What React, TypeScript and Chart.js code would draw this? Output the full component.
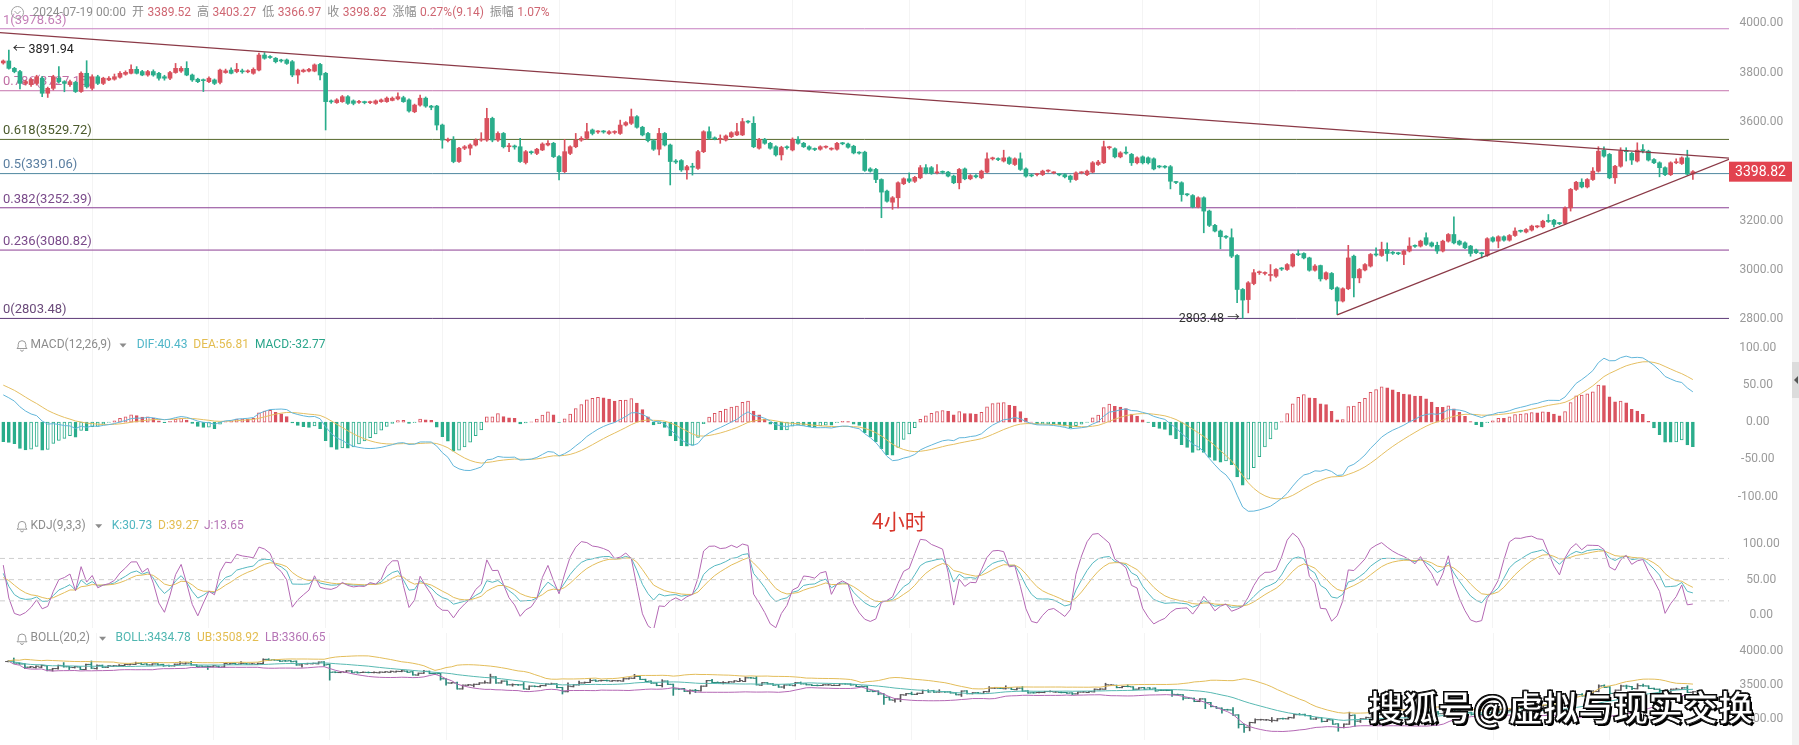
import React, { useEffect, useRef } from "react";
import { Chart, registerables } from "chart.js";

Chart.register(...registerables);

// ---------------- data (4H candles) ----------------
const opens = [
  3840,3848,3818,3805,3757,3752,3757,3778,3717,3737,
  3778,3764,3752,3761,3724,3798,3737,3784,3757,3771,
  3774,3782,3794,3798,3814,3805,3791,3805,3798,3784,
  3778,3801,3807,3818,3791,3774,3771,3764,3771,3761,
  3801,3811,3805,3808,3804,3798,3811,3872,3866,3859,
  3850,3852,3845,3791,3805,3807,3807,3834,3798,3686,
  3679,3683,3703,3686,3680,3681,3679,3676,3683,3683,
  3688,3694,3699,3690,3642,3669,3697,3665,3665,3588,
  3525,3527,3440,3494,3494,3507,3527,3527,3615,3527,
  3554,3500,3502,3500,3436,3480,3473,3487,3507,3514,
  3460,3399,3473,3500,3527,3534,3568,3560,3562,3554,
  3558,3554,3588,3595,3622,3579,3554,3525,3490,3554,
  3507,3440,3444,3406,3419,3412,3480,3561,3534,3530,
  3527,3541,3548,3548,3602,3595,3494,3530,3514,3500,
  3467,3498,3487,3530,3514,3500,3490,3490,3498,3490,
  3490,3514,3511,3502,3476,3478,3410,3408,3367,3320,
  3275,3293,3350,3370,3360,3374,3415,3415,3394,3398,
  3397,3381,3354,3410,3370,3383,3374,3397,3451,3449,
  3442,3455,3428,3451,3410,3383,3387,3387,3401,3394,
  3388,3387,3381,3367,3394,3387,3397,3428,3435,3496,
  3492,3459,3475,3469,3435,3459,3455,3451,3419,3419,
  3419,3356,3354,3306,3302,3256,3293,3239,3181,3158,
  3135,3131,3059,2921,2880,2945,2989,2986,2978,2975,
  3005,3002,3016,3063,3067,3049,2999,3018,2964,2986,
  2928,2874,2924,3056,2968,3000,3016,3063,3059,3083,
  3070,3067,3063,3077,3097,3097,3131,3110,3100,3077,
  3117,3144,3117,3110,3097,3081,3067,3059,3131,3117,
  3135,3121,3140,3158,3154,3162,3175,3175,3198,3202,
  3189,3189,3252,3327,3356,3337,3367,3401,3486,3469,
  3374,3421,3482,3473,3442,3486,3482,3448,3435,3415,
  3387,3435,3432,3455,3389.52,
];
const highs = [
  3852,3892,3822,3810,3770,3778,3790,3785,3742,3790,
  3825,3768,3770,3766,3804,3849,3792,3790,3782,3785,
  3795,3805,3808,3832,3825,3810,3810,3812,3802,3790,
  3806,3838,3825,3845,3795,3778,3775,3784,3775,3815,
  3815,3820,3838,3815,3812,3820,3880,3882,3870,3862,
  3855,3856,3850,3815,3815,3818,3836,3838,3802,3690,
  3695,3708,3708,3690,3688,3685,3685,3690,3694,3702,
  3702,3719,3705,3694,3673,3710,3702,3668,3668,3592,
  3535,3541,3498,3505,3512,3532,3557,3656,3620,3560,
  3558,3514,3507,3534,3485,3483,3494,3516,3525,3518,
  3464,3530,3504,3554,3541,3595,3572,3566,3566,3566,
  3565,3608,3602,3653,3626,3583,3558,3530,3575,3558,
  3511,3448,3448,3425,3433,3485,3565,3581,3540,3548,
  3548,3561,3595,3615,3606,3622,3534,3534,3518,3504,
  3502,3504,3536,3541,3518,3504,3495,3504,3504,3496,
  3518,3518,3515,3506,3480,3482,3415,3412,3370,3324,
  3298,3358,3374,3394,3380,3424,3428,3420,3428,3402,
  3400,3385,3412,3414,3387,3387,3405,3475,3458,3455,
  3486,3459,3455,3475,3414,3388,3392,3405,3406,3399,
  3392,3391,3385,3398,3399,3405,3440,3445,3523,3502,
  3496,3480,3500,3473,3459,3463,3459,3455,3424,3424,
  3424,3360,3358,3310,3306,3297,3297,3243,3185,3162,
  3140,3167,3063,2925,2953,3002,2996,2993,3022,3006,
  3010,3026,3067,3081,3070,3052,3022,3020,2993,2990,
  2932,2928,3100,3060,3006,3026,3067,3090,3113,3110,
  3075,3072,3081,3131,3102,3121,3151,3114,3113,3121,
  3148,3216,3121,3114,3100,3085,3072,3131,3135,3139,
  3139,3144,3171,3162,3168,3182,3180,3202,3225,3206,
  3193,3256,3331,3360,3370,3371,3415,3500,3500,3473,
  3425,3496,3496,3477,3516,3509,3486,3452,3439,3419,
  3439,3451,3459,3486,3403.27,
];
const lows = [
  3835,3815,3800,3735,3750,3745,3750,3703,3700,3730,
  3758,3723,3745,3720,3720,3738,3730,3752,3752,3768,
  3770,3778,3790,3795,3795,3788,3786,3786,3770,3770,
  3772,3798,3802,3788,3765,3760,3724,3760,3752,3755,
  3798,3795,3800,3798,3800,3794,3808,3855,3858,3840,
  3843,3834,3784,3757,3802,3804,3804,3771,3568,3676,
  3676,3680,3672,3670,3676,3674,3675,3672,3680,3680,
  3686,3690,3680,3640,3638,3665,3660,3650,3568,3494,
  3520,3435,3436,3488,3467,3503,3522,3522,3520,3522,
  3495,3480,3490,3436,3430,3470,3468,3484,3503,3456,
  3365,3395,3468,3496,3522,3530,3548,3554,3555,3550,
  3552,3550,3584,3590,3575,3544,3520,3485,3467,3503,
  3345,3432,3400,3368,3385,3408,3476,3530,3528,3514,
  3523,3537,3545,3545,3596,3496,3490,3510,3490,3462,
  3446,3490,3483,3510,3497,3486,3484,3486,3494,3486,
  3486,3508,3494,3471,3470,3400,3397,3354,3212,3275,
  3246,3252,3346,3354,3355,3370,3390,3388,3390,3390,
  3378,3350,3329,3366,3366,3374,3370,3394,3446,3443,
  3438,3428,3424,3404,3377,3378,3382,3383,3397,3390,
  3382,3374,3356,3363,3390,3383,3394,3424,3432,3490,
  3455,3455,3470,3424,3430,3430,3430,3406,3414,3413,
  3329,3350,3279,3300,3252,3252,3151,3176,3154,3086,
  3128,3050,2867,2803.48,2826,2940,2982,2980,2955,2970,
  2998,2998,3012,3058,3045,2995,2995,2955,2960,2920,
  2820,2870,2920,2891,2948,2996,3012,3056,3055,3036,
  3063,3062,3022,3073,3092,3093,3100,3093,3067,3073,
  3113,3106,3100,3086,3056,3066,3049,3055,3113,3090,
  3117,3117,3136,3153,3150,3158,3171,3171,3193,3175,
  3184,3185,3239,3323,3333,3333,3363,3397,3458,3370,
  3351,3417,3442,3428,3438,3475,3442,3431,3378,3383,
  3383,3431,3428,3385,3366.97,
];
const closes = [
  3848,3818,3805,3757,3764,3772,3784,3717,3737,3784,
  3764,3757,3764,3724,3798,3744,3784,3757,3778,3778,
  3784,3798,3802,3814,3798,3791,3805,3791,3778,3778,
  3801,3818,3818,3791,3771,3764,3768,3778,3757,3811,
  3808,3798,3814,3804,3806,3814,3872,3859,3862,3845,
  3848,3838,3791,3811,3811,3814,3832,3791,3683,3682,
  3690,3703,3676,3676,3683,3679,3681,3686,3690,3697,
  3697,3703,3683,3645,3669,3697,3665,3660,3588,3527,
  3530,3440,3494,3500,3507,3527,3530,3615,3527,3554,
  3500,3502,3499,3440,3480,3476,3490,3511,3514,3460,
  3399,3480,3500,3527,3534,3561,3554,3562,3560,3561,
  3560,3588,3598,3622,3579,3548,3525,3490,3554,3507,
  3440,3438,3406,3419,3417,3480,3561,3534,3532,3532,
  3544,3557,3561,3602,3600,3500,3530,3514,3494,3467,
  3497,3496,3530,3514,3500,3490,3489,3500,3499,3491,
  3514,3512,3498,3475,3474,3404,3401,3367,3316,3279,
  3293,3354,3370,3360,3376,3415,3394,3392,3396,3396,
  3381,3354,3408,3370,3383,3378,3401,3451,3453,3448,
  3455,3432,3451,3408,3381,3382,3388,3401,3402,3395,
  3386,3378,3367,3394,3395,3401,3435,3438,3500,3497,
  3459,3475,3474,3435,3455,3435,3435,3410,3418,3417,
  3360,3355,3306,3305,3256,3293,3239,3181,3158,3135,
  3133,3056,2921,2878,2948,2989,2990,2987,2980,3002,
  3004,3022,3063,3062,3049,2999,3016,2964,2989,2924,
  2874,2924,3049,2968,3002,3022,3063,3061,3083,3067,
  3068,3066,3077,3097,3096,3117,3104,3097,3077,3117,
  3144,3110,3104,3090,3067,3070,3066,3127,3117,3135,
  3121,3140,3158,3157,3164,3178,3176,3198,3197,3185,
  3188,3252,3327,3356,3337,3367,3401,3482,3462,3374,
  3421,3482,3480,3446,3486,3484,3446,3435,3415,3387,
  3435,3437,3455,3389,3398.82,
];

const fibRatios = ["1", "0.786", "0.618", "0.5", "0.382", "0.236", "0"];
const fibValues = [3978.63, 3727.15, 3529.72, 3391.06, 3252.39, 3080.82, 2803.48];
const descTrend = [[-0.6, 3963], [310.5, 3454]];
const ascTrend = [[240, 2818], [310.5, 3449]];
const highMark = { index: 1, value: 3891.94 };
const lowMark = { index: 223, value: 2803.48 };

const priceTicks = [2800, 3000, 3200, 3400, 3600, 3800, 4000];
const macdTicks = [-100, -50, 0, 50, 100];
const kdjTicks = [0, 50, 100];
const kdjGuides = [20, 50, 80];
const bollTicks = [3000, 3500, 4000];
const xGrid = [16, 37, 58, 79, 100, 121, 142, 163, 184, 205, 226, 247, 268, 289];

const macdSeed = [3830, 3792, 53]; // ema12, ema26, dea before the first bar

const headerItems = [
  ["2024-07-19 00:00", "t"], ["开", "l"], ["3389.52", "v"], ["高", "l"], ["3403.27", "v"],
  ["低", "l"], ["3366.97", "v"], ["收", "l"], ["3398.82", "v"], ["涨幅", "l"],
  ["0.27%(9.14)", "v"], ["振幅", "l"], ["1.07%", "v"],
];
const macdLegend = ["DIF:40.43", "DEA:56.81", "MACD:-32.77"];
const kdjLegend = ["K:30.73", "D:39.27", "J:13.65"];
const bollLegend = ["BOLL:3434.78", "UB:3508.92", "LB:3360.65"];

// ---------------- styles ----------------
const FONT = 'Roboto, "Noto Sans CJK SC", sans-serif';
const UP = "#d9515e";
const DOWN = "#2aad8b";
const BAR_UP = "#5a5558";
const BAR_DOWN = "#2c8a7b";
const X_MIN = -0.59;
const X_MAX = 310.5;
const AXIS_W = 63;
const fibLineColors = ["#c67fc0", "#c574ae", "#56692c", "#4f879f", "#8a3f94", "#8c3e93", "#5e3a78"];
const fibTextColors = ["#c57fb8", "#c06ea4", "#4b5a2c", "#5a7ea0", "#7a4a8a", "#7a4a8a", "#6a4a7a"];
const TREND = "#8b3a47";
const C_DIF = "#62b6da";
const C_DEA = "#e5bf62";
const C_K = "#55b8c0";
const C_D = "#e3bd5a";
const C_J = "#b468b4";

// ---------------- indicators ----------------
const idx = closes.map((_, i) => i);

function calcMACD() {
  let e12 = macdSeed[0], e26 = macdSeed[1], dea = macdSeed[2];
  const dif: number[] = [], deaA: number[] = [], hist: number[] = [];
  closes.forEach((c) => {
    e12 = (e12 * 11) / 13 + (c * 2) / 13;
    e26 = (e26 * 25) / 27 + (c * 2) / 27;
    const d = e12 - e26;
    dea = dea * 0.8 + d * 0.2;
    dif.push(d); deaA.push(dea); hist.push(2 * (d - dea));
  });
  return { dif, dea: deaA, hist };
}
function calcKDJ() {
  let k = 50, d = 50;
  const K: number[] = [], D: number[] = [], J: number[] = [];
  closes.forEach((c, i) => {
    const s = Math.max(0, i - 8);
    const lo = Math.min(...lows.slice(s, i + 1));
    const hi = Math.max(...highs.slice(s, i + 1));
    const rsv = hi === lo ? 50 : ((c - lo) / (hi - lo)) * 100;
    k = (2 * k + rsv) / 3;
    d = (2 * d + k) / 3;
    K.push(k); D.push(d); J.push(3 * k - 2 * d);
  });
  return { K, D, J };
}
function calcBOLL() {
  const mid: number[] = [], up: number[] = [], dn: number[] = [];
  closes.forEach((_, i) => {
    const w = closes.slice(Math.max(0, i - 19), i + 1);
    const m = w.reduce((a, b) => a + b, 0) / w.length;
    const sd = Math.sqrt(w.reduce((a, b) => a + (b - m) * (b - m), 0) / w.length);
    mid.push(m); up.push(m + 2 * sd); dn.push(m - 2 * sd);
  });
  return { mid, up, dn };
}

// ---------------- helpers ----------------
const isUp = (i: number) => closes[i] >= opens[i];
const candleColor = (i: number) => (isUp(i) ? UP : DOWN);
const pts = (arr: number[]) => arr.map((v, i) => ({ x: i, y: v }));
const hline = (v: number) => [{ x: X_MIN, y: v }, { x: X_MAX, y: v }];

function xScale() {
  return {
    type: "linear",
    min: X_MIN,
    max: X_MAX,
    offset: false,
    display: true,
    ticks: { display: false },
    grid: { color: "rgba(0,0,0,0.045)", drawTicks: false, offset: false },
    border: { display: false },
    afterBuildTicks: (s: any) => { s.ticks = xGrid.map((v) => ({ value: v })); },
    afterFit: (s: any) => { s.height = 0; },
  };
}
function yScale(min: number, max: number, ticks: number[], pad: number) {
  return {
    type: "linear",
    position: "right",
    min,
    max,
    beginAtZero: false,
    grid: { display: false, drawTicks: false },
    border: { display: false },
    ticks: {
      color: "#9a9a9a",
      font: { family: FONT, size: 12 },
      crossAlign: "center",
      padding: pad,
      autoSkip: false,
      callback: (v: any) => Number(v).toFixed(2),
    },
    afterBuildTicks: (s: any) => { s.ticks = ticks.map((v) => ({ value: v })); },
    afterFit: (s: any) => { s.width = AXIS_W; s.paddingTop = 0; s.paddingBottom = 0; },
  };
}
function baseOptions(scales: any) {
  return {
    responsive: false,
    maintainAspectRatio: false,
    animation: false,
    events: [],
    layout: { padding: 0 },
    plugins: { legend: { display: false }, tooltip: { enabled: false } },
    scales,
  };
}
function drawBell(ctx: any, cx: number, cy: number) {
  ctx.save();
  ctx.strokeStyle = "#9a9a9a";
  ctx.lineWidth = 1;
  ctx.beginPath();
  ctx.moveTo(cx - 5, cy + 3.5);
  ctx.lineTo(cx - 3.8, cy + 2);
  ctx.lineTo(cx - 3.8, cy - 0.5);
  ctx.arc(cx, cy - 0.5, 3.8, Math.PI, 0);
  ctx.lineTo(cx + 3.8, cy + 2);
  ctx.lineTo(cx + 5, cy + 3.5);
  ctx.closePath();
  ctx.stroke();
  ctx.beginPath();
  ctx.arc(cx, cy + 4.8, 1.4, 0, Math.PI);
  ctx.stroke();
  ctx.restore();
}
function drawLegend(ctx: any, yc: number, name: string, caretX: number, items: any[]) {
  ctx.save();
  drawBell(ctx, 22, yc);
  ctx.font = `12px ${FONT}`;
  ctx.textBaseline = "middle";
  ctx.textAlign = "left";
  ctx.fillStyle = "#8c8c8c";
  ctx.fillText(name, 30.5, yc);
  ctx.beginPath();
  ctx.moveTo(caretX - 3.5, yc - 1.5);
  ctx.lineTo(caretX + 3.5, yc - 1.5);
  ctx.lineTo(caretX, yc + 2.5);
  ctx.closePath();
  ctx.fill();
  items.forEach(([t, x, c]) => { ctx.fillStyle = c; ctx.fillText(t, x, yc); });
  ctx.restore();
}

// ---------------- chart configs ----------------
function mainConfig() {
  const overlay = {
    id: "mainOverlay",
    beforeDatasetsDraw(chart: any) {
      const { ctx, scales } = chart;
      ctx.save();
      ctx.font = `13px ${FONT}`;
      ctx.textBaseline = "middle";
      ctx.textAlign = "left";
      fibValues.forEach((v, k) => {
        ctx.fillStyle = fibTextColors[k];
        ctx.fillText(`${fibRatios[k]}(${v.toFixed(2)})`, 3, scales.y.getPixelForValue(v) - 8.5);
      });
      ctx.restore();
    },
    afterDraw(chart: any) {
      const { ctx, scales, chartArea } = chart;
      const { x, y } = scales;
      ctx.save();
      // high / low marks
      ctx.font = `12.5px ${FONT}`;
      ctx.textBaseline = "middle";
      ctx.fillStyle = "#222";
      ctx.textAlign = "left";
      ctx.fillText(`← ${highMark.value.toFixed(2)}`, x.getPixelForValue(highMark.index) + 4, y.getPixelForValue(highMark.value));
      ctx.fillStyle = "#333";
      ctx.textAlign = "right";
      ctx.fillText(`${lowMark.value.toFixed(2)} →`, x.getPixelForValue(lowMark.index) - 3, y.getPixelForValue(lowMark.value));
      // header
      ctx.strokeStyle = "#a0a0a0";
      ctx.lineWidth = 1;
      ctx.beginPath();
      ctx.arc(17.5, 12.5, 6, 0, Math.PI * 2);
      ctx.stroke();
      ctx.beginPath();
      ctx.moveTo(14.5, 11);
      ctx.lineTo(17.5, 14);
      ctx.lineTo(20.5, 11);
      ctx.stroke();
      ctx.font = `12px ${FONT}`;
      ctx.textAlign = "left";
      let hx = 32.5;
      headerItems.forEach(([t, kind], k) => {
        ctx.fillStyle = kind === "v" ? "#cf6672" : "#8e8e8e";
        ctx.fillText(t, hx, 12.5);
        const next = headerItems[k + 1];
        hx += ctx.measureText(t).width + (next && next[1] === "v" ? 3.5 : 6);
      });
      // last price box
      const last = closes.length - 1;
      const py = y.getPixelForValue(closes[last]);
      ctx.fillStyle = "#e2434f";
      ctx.fillRect(chartArea.right, py - 10, AXIS_W, 20);
      ctx.fillStyle = "#ffffff";
      ctx.font = `14px ${FONT}`;
      ctx.textAlign = "center";
      ctx.fillText(closes[last].toFixed(2), chartArea.right + AXIS_W / 2, py + 0.5);
      ctx.restore();
    },
  };
  const datasets: any[] = [
    { type: "line", data: descTrend.map(([a, b]) => ({ x: a, y: b })), borderColor: TREND, borderWidth: 1.2, pointRadius: 0, order: 0 },
    { type: "line", data: ascTrend.map(([a, b]) => ({ x: a, y: b })), borderColor: TREND, borderWidth: 1.2, pointRadius: 0, order: 0 },
    {
      type: "bar",
      data: idx.map((i) => ({ x: i, y: [opens[i], closes[i]] })),
      backgroundColor: idx.map(candleColor),
      borderWidth: 0,
      barThickness: 4,
      minBarLength: 1,
      grouped: false,
      order: 1,
    },
    {
      type: "bar",
      data: idx.map((i) => ({ x: i, y: [lows[i], highs[i]] })),
      backgroundColor: idx.map(candleColor),
      borderWidth: 0,
      barThickness: 1,
      minBarLength: 1,
      grouped: false,
      order: 2,
    },
    ...fibValues.map((v, k) => ({
      type: "line",
      data: hline(v),
      borderColor: fibLineColors[k],
      borderWidth: 1,
      pointRadius: 0,
      order: 3,
    })),
  ];
  return {
    type: "bar",
    data: { datasets },
    options: baseOptions({ x: xScale(), y: yScale(2744.4, 4095.3, priceTicks, 10.5) }),
    plugins: [overlay],
  };
}

function macdConfig() {
  const m = calcMACD();
  const hollow = m.hist.map((v, i) => i > 0 && v > m.hist[i - 1]);
  const col = m.hist.map((v) => (v >= 0 ? UP : DOWN));
  const legend = {
    id: "macdLegend",
    afterDraw(chart: any) {
      drawLegend(chart.ctx, 12, "MACD(12,26,9)", 123, [
        [macdLegend[0], 136.7, "#4fb6c8"],
        [macdLegend[1], 193.3, "#e3bd50"],
        [macdLegend[2], 255, "#2aa58a"],
      ]);
    },
  };
  return {
    type: "bar",
    data: {
      datasets: [
        { type: "line", data: pts(m.dif), borderColor: C_DIF, borderWidth: 1, pointRadius: 0, order: 0 },
        { type: "line", data: pts(m.dea), borderColor: C_DEA, borderWidth: 1, pointRadius: 0, order: 0 },
        {
          type: "bar",
          data: pts(m.hist),
          backgroundColor: col.map((c, i) => (hollow[i] ? "#ffffff" : c)),
          borderColor: col,
          borderWidth: 1,
          borderSkipped: false,
          barThickness: 3,
          grouped: false,
          order: 1,
        },
      ],
    },
    options: baseOptions({ x: xScale(), y: yScale(-120.6, 119.7, macdTicks, 8.7) }),
    plugins: [legend],
  };
}

function kdjConfig() {
  const k = calcKDJ();
  const legend = {
    id: "kdjLegend",
    afterDraw(chart: any) {
      drawLegend(chart.ctx, 13.7, "KDJ(9,3,3)", 98.7, [
        [kdjLegend[0], 111.7, "#4fb6c0"],
        [kdjLegend[1], 158, "#e3bd50"],
        [kdjLegend[2], 204, "#b675b6"],
      ]);
    },
  };
  return {
    type: "line",
    data: {
      datasets: [
        ...kdjGuides.map((g) => ({ data: hline(g), borderColor: "#cfcfcf", borderWidth: 1, borderDash: [5, 4], pointRadius: 0 })),
        { data: pts(k.J), borderColor: C_J, borderWidth: 1, pointRadius: 0 },
        { data: pts(k.D), borderColor: C_D, borderWidth: 1, pointRadius: 0 },
        { data: pts(k.K), borderColor: C_K, borderWidth: 1, pointRadius: 0 },
      ],
    },
    options: baseOptions({ x: xScale(), y: yScale(-18.4, 145.7, kdjTicks, 13.8) }),
    plugins: [legend],
  };
}

function bollConfig() {
  const b = calcBOLL();
  const legend = {
    id: "bollLegend",
    afterDraw(chart: any) {
      drawLegend(chart.ctx, 10.3, "BOLL(20,2)", 102.6, [
        [bollLegend[0], 115.6, "#4fb6b0"],
        [bollLegend[1], 197, "#e3bd50"],
        [bollLegend[2], 265, "#b675b6"],
      ]);
    },
  };
  const cols = idx.map((i) => (isUp(i) ? BAR_UP : BAR_DOWN));
  return {
    type: "bar",
    data: {
      datasets: [
        { type: "line", data: pts(b.up), borderColor: C_D, borderWidth: 1, pointRadius: 0, order: 0 },
        { type: "line", data: pts(b.mid), borderColor: "#58b9b2", borderWidth: 1, pointRadius: 0, order: 0 },
        { type: "line", data: pts(b.dn), borderColor: C_J, borderWidth: 1, pointRadius: 0, order: 0 },
        {
          type: "line",
          data: idx.map((i) => ({ x: i - 0.28, y: opens[i] })),
          showLine: false,
          pointStyle: "line",
          pointRadius: 1.6,
          pointBorderWidth: 1,
          pointBorderColor: cols,
          order: 1,
        },
        {
          type: "line",
          data: idx.map((i) => ({ x: i + 0.28, y: closes[i] })),
          showLine: false,
          pointStyle: "line",
          pointRadius: 1.6,
          pointBorderWidth: 1,
          pointBorderColor: cols,
          order: 1,
        },
        {
          type: "bar",
          data: idx.map((i) => ({ x: i, y: [lows[i], highs[i]] })),
          backgroundColor: cols,
          borderWidth: 0,
          barThickness: 1,
          minBarLength: 1,
          grouped: false,
          order: 2,
        },
      ],
    },
    options: baseOptions({ x: xScale(), y: yScale(2692, 4258, bollTicks, 10.5) }),
    plugins: [legend],
  };
}

// ---------------- component ----------------
export default function App() {
  const mainRef = useRef<HTMLCanvasElement>(null);
  const macdRef = useRef<HTMLCanvasElement>(null);
  const kdjRef = useRef<HTMLCanvasElement>(null);
  const bollRef = useRef<HTMLCanvasElement>(null);

  useEffect(() => {
    document.body.style.margin = "0";
    document.body.style.overflow = "hidden";
    const charts = [
      new Chart(mainRef.current as any, mainConfig() as any),
      new Chart(macdRef.current as any, macdConfig() as any),
      new Chart(kdjRef.current as any, kdjConfig() as any),
      new Chart(bollRef.current as any, bollConfig() as any),
    ];
    return () => charts.forEach((c) => c.destroy());
  }, []);

  const cv = (top: number): React.CSSProperties => ({ position: "absolute", left: 0, top, display: "block" });

  return (
    <div style={{ position: "absolute", left: 0, top: 0, width: 1799, height: 745, background: "#ffffff", overflow: "hidden" }}>
      <canvas ref={mainRef} width={1792} height={333} style={cv(0)} />
      <canvas ref={macdRef} width={1792} height={179} style={cv(333)} />
      <canvas ref={kdjRef} width={1792} height={116} style={cv(512)} />
      <canvas ref={bollRef} width={1792} height={117} style={cv(628)} />
      <div style={{ position: "absolute", left: 1792, top: 0, width: 7, height: 745, background: "#f2f2f2" }} />
      <div style={{ position: "absolute", left: 1792, top: 362, width: 7, height: 36, background: "#dcdcdc" }}>
        <div style={{ position: "absolute", left: 2, top: 14, width: 0, height: 0, borderTop: "4px solid transparent", borderBottom: "4px solid transparent", borderRight: "4px solid #555" }} />
      </div>
      <div style={{ position: "absolute", left: 872, top: 507, fontFamily: '"Noto Sans CJK SC", sans-serif', fontSize: 21, lineHeight: "26px", color: "#d8362c" }}>
        4小时
      </div>
      <div
        style={{
          position: "absolute",
          left: 1368,
          top: 684,
          fontFamily: '"Noto Sans CJK SC", sans-serif',
          fontWeight: 700,
          fontSize: 35,
          lineHeight: "44px",
          color: "#ffffff",
          whiteSpace: "nowrap",
          WebkitTextStroke: "1px #111",
          textShadow: "2px 2px 0 #000, -1px -1px 0 #000, 1px -1px 0 #000, -1px 1px 0 #000",
        }}
      >
        搜狐号@虚拟与现实交换
      </div>
    </div>
  );
}
